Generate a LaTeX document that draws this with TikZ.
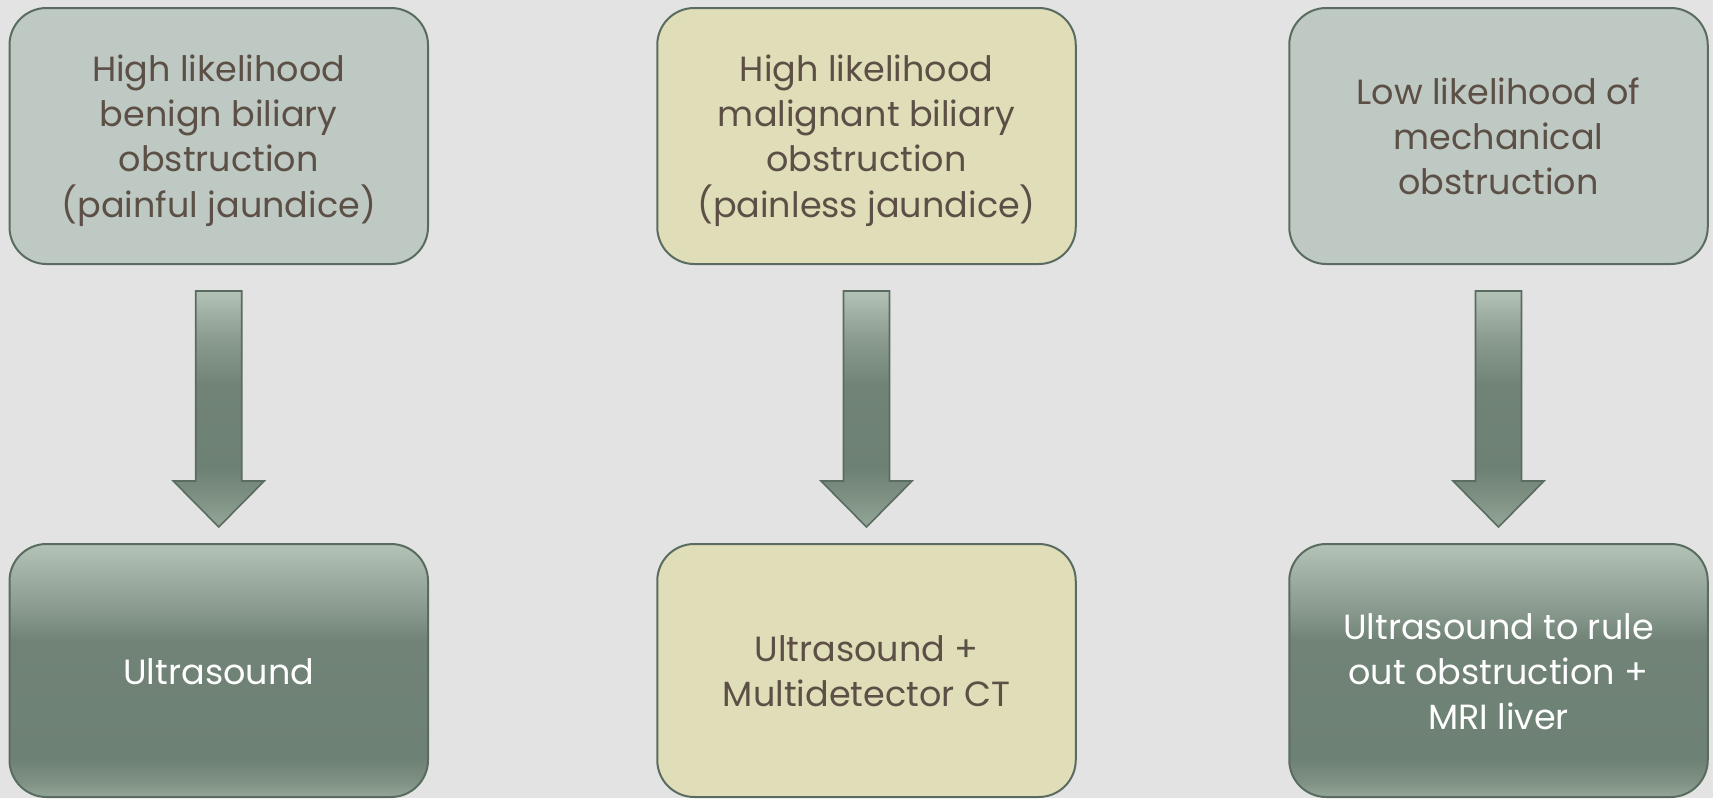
\documentclass[tikz,border=0pt]{standalone}
\usepackage{fontspec}
\setmainfont{Poppins}
\usetikzlibrary{calc}
\definecolor{bgc}{HTML}{E3E3E3}
\definecolor{edgec}{HTML}{5A6C5F}
\definecolor{greyfill}{HTML}{BFC9C3}
\definecolor{yellowfill}{HTML}{E0DEB9}
\definecolor{txtc}{HTML}{5C5046}
\definecolor{dkA}{HTML}{93A698}
\definecolor{dkB}{HTML}{7E9183}
\definecolor{dkC}{HTML}{6E8175}
\definecolor{dkD}{HTML}{718377}
\definecolor{dkE}{HTML}{8B9B8F}
\definecolor{dkF}{HTML}{B4C2B8}
\pgfdeclareverticalshading{darkbox}{100bp}{color(0bp)=(dkA); color(25bp)=(dkA); color(28bp)=(dkB); color(32.5bp)=(dkC); color(56bp)=(dkD); color(62.5bp)=(dkE); color(75bp)=(dkF); color(100bp)=(dkF)}
\pgfdeclareverticalshading{darkarrow}{100bp}{color(0bp)=(dkA); color(25bp)=(dkA); color(31bp)=(dkB); color(37.5bp)=(dkC); color(55bp)=(dkD); color(65bp)=(dkE); color(75bp)=(dkF); color(100bp)=(dkF)}
\newcommand{\boxtext}[1]{\raisebox{-4.5pt}[\height][\depth]{\begin{tabular}{@{}c@{}}#1\end{tabular}}}
\tikzset{
  box/.style={draw=edgec, line width=2pt, rounded corners=37pt, minimum width=418.5pt,
    inner sep=0pt, align=center, font=\fontsize{35}{45}\selectfont},
  topbox/.style={box, minimum height=256pt},
  botbox/.style={box, minimum height=253pt},
  greybox/.style={fill=greyfill, text=txtc},
  yellowbox/.style={fill=yellowfill, text=txtc},
  darkbx/.style={shading=darkbox, text=white},
  blockarrow/.style={draw=edgec, line width=1.6pt, shading=darkarrow, line join=miter}
}
\begin{document}
\begin{tikzpicture}[x=1pt,y=1pt]
\fill[bgc] (0,0) rectangle (1713,-798);
\useasboundingbox (0,0) rectangle (1713,-798);
\node[topbox,greybox] (t1) at (218.75,-136) {\boxtext{High likelihood\\benign biliary\\obstruction\\(painful jaundice)}};
\node[topbox,yellowbox] (t2) at (866.5,-136) {\boxtext{High likelihood\\malignant biliary\\obstruction\\(painless jaundice)}};
\node[topbox,greybox] (t3) at (1498.5,-136) {\boxtext{Low likelihood of\\mechanical\\obstruction}};
\node[botbox,darkbx] (b1) at (218.75,-670.5) {\boxtext{Ultrasound}};
\node[botbox,yellowbox] (b2) at (866.5,-670.5) {\boxtext{Ultrasound +\\Multidetector CT}};
\node[botbox,darkbx] (b3) at (1498.5,-670.5) {\boxtext{Ultrasound to rule\\out obstruction +\\MRI liver}};
\foreach \a/\b in {t1/b1,t2/b2,t3/b3}{
  \path[blockarrow] ($(\a.south)+(-23,-26)$) -- ($(\a.south)+(23,-26)$)
    -- ($(\b.north)+(23,62)$) -- ($(\b.north)+(45.5,62)$) -- ($(\b.north)+(0,16)$)
    -- ($(\b.north)+(-45.5,62)$) -- ($(\b.north)+(-23,62)$) -- cycle;
}
\end{tikzpicture}
\end{document}
